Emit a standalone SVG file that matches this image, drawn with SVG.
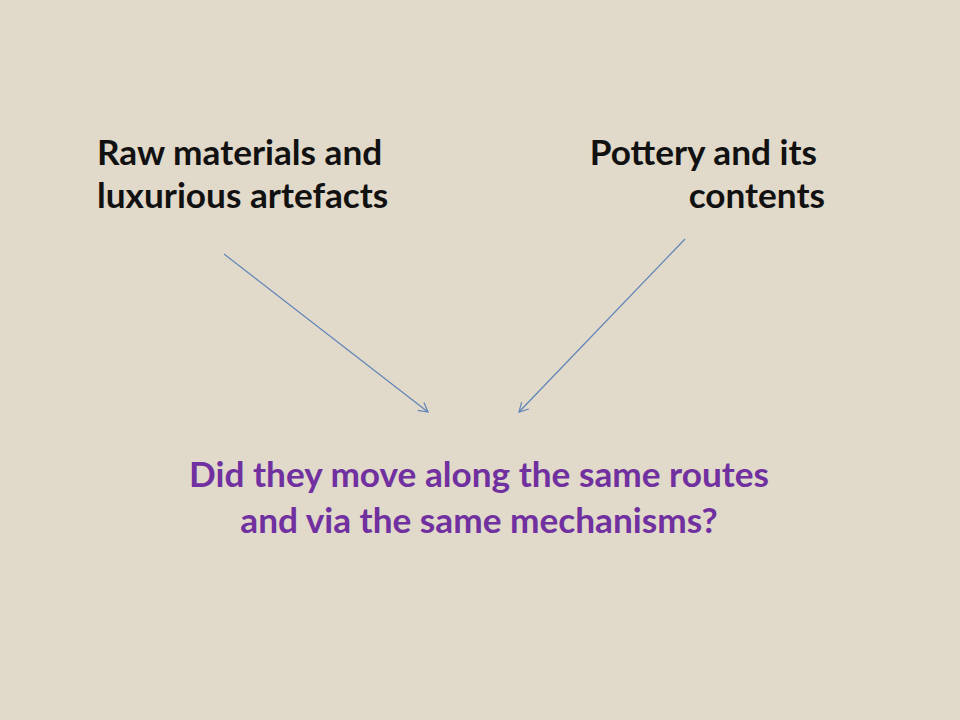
<svg xmlns="http://www.w3.org/2000/svg" width="960" height="720" viewBox="0 0 960 720">
<style>
.lbl{font-family:Lato,"Open Sans","Liberation Sans",sans-serif;font-weight:bold;font-size:35.2px;fill:#111}
.q{font-family:Lato,"Open Sans","Liberation Sans",sans-serif;font-weight:bold;font-size:35.2px;fill:#7030a0}
.conn{stroke:#5f84b8;stroke-width:1.2;fill:none}
</style>
<defs>
<marker id="arr" markerWidth="12" markerHeight="12" refX="10" refY="6" orient="auto" markerUnits="userSpaceOnUse">
<path d="M1,1 L10,6 L1,11" fill="none" stroke="#5f84b8" stroke-width="1.2"/>
</marker>
</defs>
<rect width="960" height="720" fill="#e1d9c9"/>
<g id="node-raw">
<text class="lbl" x="97" y="165">Raw materials and</text>
<text class="lbl" x="97" y="208">luxurious artefacts</text>
</g>
<g id="node-pottery">
<text class="lbl" x="817" y="165" text-anchor="end">Pottery and its</text>
<text class="lbl" x="825" y="208" text-anchor="end">contents</text>
</g>
<g id="node-question">
<text class="q" x="479" y="487" text-anchor="middle">Did they move along the same routes</text>
<text class="q" x="479" y="533" text-anchor="middle">and via the same mechanisms?</text>
</g>
<g id="connectors">
<line class="conn" x1="224" y1="254" x2="428" y2="412" marker-end="url(#arr)"/>
<line class="conn" x1="685" y1="239" x2="519" y2="412" marker-end="url(#arr)"/>
</g>
</svg>
